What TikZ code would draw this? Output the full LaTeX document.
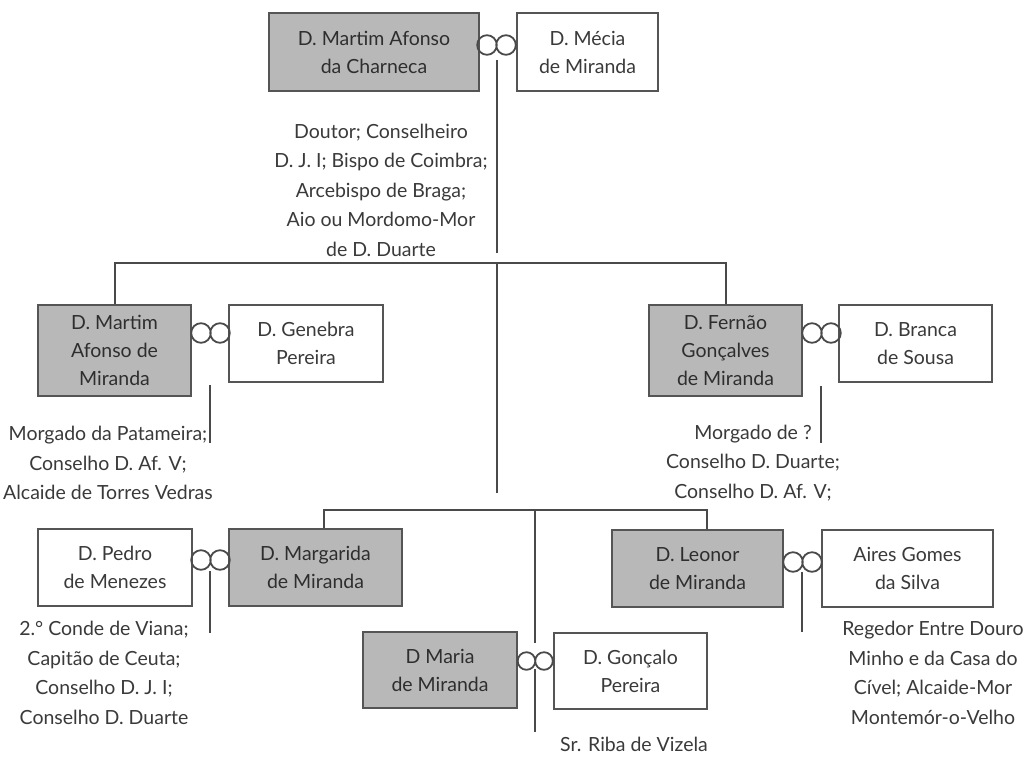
\documentclass[tikz,border=0pt]{standalone}
\usepackage{fontspec}
\setmainfont{Lato}
\definecolor{boxc}{HTML}{555555}
\definecolor{linec}{HTML}{4A4A4A}
\definecolor{shadec}{HTML}{B8B8B8}
\definecolor{txtc}{HTML}{3A3A3A}
\definecolor{stxt}{HTML}{2E2E2E}
\begin{document}
\begin{tikzpicture}[x=1pt,y=-1pt,
  box/.style={draw=boxc, line width=1.6pt, inner sep=0pt, align=center, text=txtc, font=\fontsize{19.5}{28}\selectfont},
  shaded/.style={box, fill=shadec, text=stxt},
  note/.style={align=center, inner sep=0pt, text=txtc, font=\fontsize{19.5}{29.5}\selectfont},
  link/.style={draw=linec, line width=2pt},
  ring/.style={draw=linec, line width=1.8pt}]
\useasboundingbox[fill=white] (0,0) rectangle (1024,756);

% generation 1
\node[shaded, minimum width=210pt, minimum height=78pt] (mart) at (374,52) {D. Martim Afonso\\da Charneca};
\node[box, minimum width=141pt, minimum height=78pt] (mecia) at (587.5,52) {D. Mécia\\de Miranda};
\draw[ring] (487,45) circle[radius=9.8pt] (506,45) circle[radius=9.8pt];
\node[note] (n1) at (381,190) {Doutor; Conselheiro\\D. J. I; Bispo de Coimbra;\\Arcebispo de Braga;\\Aio ou Mordomo-Mor\\de D. Duarte};

% generation 2
\node[shaded, minimum width=153pt, minimum height=91pt] (mamir) at (114.5,350.5) {D. Martim\\Afonso de\\Miranda};
\node[box, minimum width=154pt, minimum height=77pt] (genebra) at (306,343.5) {D. Genebra\\Pereira};
\draw[ring] (201,333) circle[radius=9.8pt] (220,333) circle[radius=9.8pt];
\node[note] (n2) at (108,463) {Morgado da Patameira;\\Conselho D. Af. V;\\Alcaide de Torres Vedras};

\node[shaded, minimum width=153pt, minimum height=91pt] (fernao) at (725.5,350.5) {D. Fernão\\Gonçalves\\de Miranda};
\node[box, minimum width=153pt, minimum height=77pt] (branca) at (915.5,343.5) {D. Branca\\de Sousa};
\draw[ring] (812,333) circle[radius=9.8pt] (831,333) circle[radius=9.8pt];
\node[note] (n3) at (753,463) {Morgado de ?\\Conselho D. Duarte;\\Conselho D. Af. V;};

% generation 3
\node[box, minimum width=154pt, minimum height=77pt] (pedro) at (115,567.5) {D. Pedro\\de Menezes};
\node[shaded, minimum width=173pt, minimum height=77pt] (marg) at (315.5,567.5) {D. Margarida\\de Miranda};
\draw[ring] (201,560) circle[radius=9.8pt] (220,560) circle[radius=9.8pt];
\node[note] (n4) at (104,673) {2.° Conde de Viana;\\Capitão de Ceuta;\\Conselho D. J. I;\\Conselho D. Duarte};

\node[shaded, minimum width=171pt, minimum height=77pt] (leonor) at (697.5,568.5) {D. Leonor\\de Miranda};
\node[box, minimum width=171pt, minimum height=77pt] (aires) at (907.5,568.5) {Aires Gomes\\da Silva};
\draw[ring] (793,562) circle[radius=9.8pt] (812,562) circle[radius=9.8pt];
\node[note] (n5) at (933,673) {Regedor Entre Douro\\Minho e da Casa do\\Cível; Alcaide-Mor\\Montemór-o-Velho};

\node[shaded, minimum width=154pt, minimum height=76pt] (maria) at (440,670) {D Maria\\de Miranda};
\node[box, minimum width=153pt, minimum height=76pt] (gonc) at (630.5,671) {D. Gonçalo\\Pereira};
\draw[ring] (526.5,661) circle[radius=8.8pt] (544,661) circle[radius=8.8pt];
\node[note] (n6) at (634,744) {Sr. Riba de Vizela};

% connectors
\coordinate (c0a) at (497,60);
\coordinate (c0b) at (497,253);
\coordinate (h1) at (0,263);
\coordinate (c1a) at (497,263);
\coordinate (c1b) at (497,493);
\coordinate (bm) at (324,510);
\coordinate (bl) at (707,510);
\coordinate (bc) at (535,510);
\coordinate (bca) at (535,643);
\coordinate (bcb) at (535,669);
\coordinate (bcc) at (535,732);

\draw[link] (c0a) -- (c0b);
\draw[link] (mamir.north) -- (mamir.north |- h1) -- (fernao.north |- h1) -- (fernao.north);
\draw[link] (c1a) -- (c1b);
\draw[link] (bm |- marg.north) -- (bm) -- (bl) -- (bl |- leonor.north);
\draw[link] (bc) -- (bca);
\draw[link] (bcb) -- (bcc);

\coordinate (l1a) at (210,385); \coordinate (l1b) at (210,443);
\coordinate (r1a) at (821,386); \coordinate (r1b) at (821,443);
\coordinate (l2a) at (210,571); \coordinate (l2b) at (210,633);
\coordinate (r2a) at (802,572); \coordinate (r2b) at (802,632);
\draw[link] (l1a) -- (l1b);
\draw[link] (r1a) -- (r1b);
\draw[link] (l2a) -- (l2b);
\draw[link] (r2a) -- (r2b);
\end{tikzpicture}
\end{document}
